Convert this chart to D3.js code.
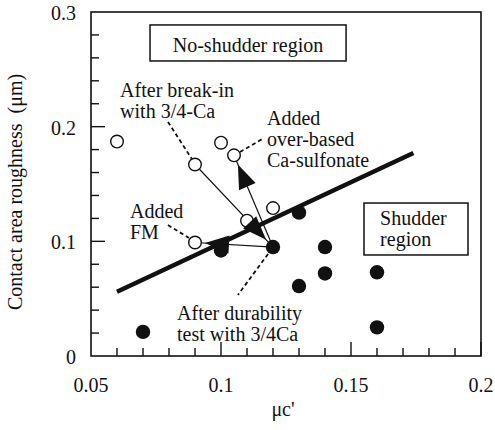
<!DOCTYPE html>
<html>
<head>
<meta charset="utf-8">
<script src="https://cdn.jsdelivr.net/npm/d3@7"></script>
<style>
  body { margin: 0; background: #fff; }
</style>
</head>
<body>
<svg id="chart"></svg>
<script>
// open circles (no shudder) and filled circles (shudder)
const openX = [0.06, 0.10, 0.105, 0.09, 0.11, 0.12, 0.09];
const openY = [0.187, 0.186, 0.175, 0.167, 0.118, 0.129, 0.099];
const filledX = [0.12, 0.10, 0.13, 0.14, 0.14, 0.13, 0.16, 0.16, 0.07];
const filledY = [0.095, 0.092, 0.125, 0.095, 0.072, 0.061, 0.073, 0.025, 0.021];

// boundary line
const boundaryX = [0.06, 0.174];
const boundaryY = [0.056, 0.177];

// arrows: from point -> to point
const arrowFrom = [[0.09, 0.167], [0.12, 0.095], [0.12, 0.095]];
const arrowTo = [[0.12, 0.095], [0.105, 0.175], [0.09, 0.099]];

const xTicks = [0.05, 0.1, 0.15, 0.2];
const xTickLabels = ["0.05", "0.1", "0.15", "0.2"];
const yTicks = [0, 0.1, 0.2, 0.3];
const yTickLabels = ["0", "0.1", "0.2", "0.3"];

// annotations
const notes = [
    {x: 0.0612, y: 0.2259, lines: ["After break-in", "with 3/4-Ca"]},
    {x: 0.1177, y: 0.2015, lines: ["Added", "over-based", "Ca-sulfonate"]},
    {x: 0.065, y: 0.1203, lines: ["Added", "FM"]},
    {x: 0.0831, y: 0.0314, lines: ["After durability", "test with 3/4Ca"]},
    {x: 0.1612, y: 0.1142, lines: ["Shudder", "region"]}
];
const leaders = [
    [0.0796, 0.2041, 0.0888, 0.1718],
    [0.1073, 0.1779, 0.1165, 0.1901],
    [0.0796, 0.1142, 0.0877, 0.1029],
    [0.1181, 0.0890, 0.1065, 0.0532]
];
const boxes = [[0.0727, 0.2887, 0.1481, 0.2573], [0.155, 0.1334, 0.195, 0.0881]];

const FONT = 'Liberation Serif';
const width = 495, height = 430;
const margin = {left: 91, right: 14, top: 12, bottom: 74};

const svg = d3.select('#chart').attr('width', width).attr('height', height);

const x = d3.scaleLinear().domain([0.05, 0.2]).range([margin.left, width - margin.right]);
const y = d3.scaleLinear().domain([0, 0.3]).range([height - margin.bottom, margin.top]);

function label(sel) {
    return sel.attr('font-family', FONT).attr('font-size', 20).attr('fill', '#111');
}

// frame
svg.append('rect')
    .attr('x', x(0.05)).attr('y', y(0.3))
    .attr('width', x(0.2) - x(0.05)).attr('height', y(0) - y(0.3))
    .attr('fill', 'none').attr('stroke', '#111').attr('stroke-width', 1.6);

// inward ticks
const xMinor = d3.range(0.06, 0.2, 0.01);
svg.selectAll('.xt').data(xMinor).enter().append('line')
    .attr('x1', d => x(d)).attr('x2', d => x(d))
    .attr('y1', y(0)).attr('y2', d => y(0) - (Math.abs(d * 20 - Math.round(d * 20)) < 0.01 ? 14 : 8))
    .attr('stroke', '#111').attr('stroke-width', 1.4);
const yMinor = d3.range(0.02, 0.3, 0.02);
svg.selectAll('.yt').data(yMinor).enter().append('line')
    .attr('y1', d => y(d)).attr('y2', d => y(d))
    .attr('x1', x(0.05)).attr('x2', d => x(0.05) + (Math.abs(d * 10 - Math.round(d * 10)) < 0.01 ? 14 : 8))
    .attr('stroke', '#111').attr('stroke-width', 1.4);

// tick labels
svg.selectAll('.xl').data(xTicks).enter().append('text')
    .call(label)
    .attr('x', d => x(d)).attr('y', y(0) + 36)
    .attr('text-anchor', 'middle')
    .text((d, i) => xTickLabels[i]);
svg.selectAll('.yl').data(yTicks).enter().append('text')
    .call(label)
    .attr('x', x(0.05) - 15).attr('y', d => y(d) + 8)
    .attr('text-anchor', 'end')
    .text((d, i) => yTickLabels[i]);

// axis titles
svg.append('text')
    .call(label)
    .attr('x', 283).attr('y', 416)
    .attr('text-anchor', 'middle')
    .text("\u03bcc'");
svg.append('text')
    .call(label)
    .attr('transform', 'translate(22,' + (y(0.15) + 8) + ') rotate(-90)')
    .attr('text-anchor', 'middle')
    .style('white-space', 'pre')
    .text("Contact area roughness  (\u03bcm)");

// region boxes
svg.selectAll('.box').data(boxes).enter().append('rect')
    .attr('x', d => x(d[0])).attr('y', d => y(d[1]))
    .attr('width', d => x(d[2]) - x(d[0])).attr('height', d => y(d[3]) - y(d[1]))
    .attr('fill', '#fff').attr('stroke', '#111').attr('stroke-width', 1.5);
svg.append('text')
    .call(label)
    .attr('x', x(0.1104)).attr('y', y(0.265))
    .attr('text-anchor', 'middle')
    .text('No-shudder region');

// leader lines
svg.selectAll('.leader').data(leaders).enter().append('line')
    .attr('x1', d => x(d[0])).attr('y1', d => y(d[1]))
    .attr('x2', d => x(d[2])).attr('y2', d => y(d[3]))
    .attr('stroke', '#111').attr('stroke-width', 1.8).attr('stroke-dasharray', '4,3');

// arrow shafts
svg.selectAll('.shaft').data(arrowFrom).enter().append('line')
    .attr('x1', d => x(d[0])).attr('y1', d => y(d[1]))
    .attr('x2', (d, i) => x(arrowTo[i][0])).attr('y2', (d, i) => y(arrowTo[i][1]))
    .attr('stroke', '#111').attr('stroke-width', 1.2);

// open circles
svg.selectAll('.open').data(openX).enter().append('circle')
    .attr('cx', d => x(d)).attr('cy', (d, i) => y(openY[i]))
    .attr('r', 6.3)
    .attr('fill', '#fff').attr('stroke', '#111').attr('stroke-width', 1.4);

// boundary
svg.append('line')
    .attr('x1', x(boundaryX[0])).attr('y1', y(boundaryY[0]))
    .attr('x2', x(boundaryX[1])).attr('y2', y(boundaryY[1]))
    .attr('stroke', '#111').attr('stroke-width', 4.5);

// filled circles
svg.selectAll('.filled').data(filledX).enter().append('circle')
    .attr('cx', d => x(d)).attr('cy', (d, i) => y(filledY[i]))
    .attr('r', 7.2)
    .attr('fill', '#111');

// arrow heads, stopping short of the target point
svg.selectAll('.head').data(arrowFrom).enter().append('path')
    .attr('d', (d, i) => {
        const x0 = x(d[0]), y0 = y(d[1]);
        const x1 = x(arrowTo[i][0]), y1 = y(arrowTo[i][1]);
        const len = Math.hypot(x1 - x0, y1 - y0);
        const ux = (x1 - x0) / len, uy = (y1 - y0) / len;
        const tx = x1 - ux * 10, ty = y1 - uy * 10;
        const bx = tx - ux * 24, by = ty - uy * 24;
        return 'M' + tx + ',' + ty +
            'L' + (bx - uy * 9) + ',' + (by + ux * 9) +
            'L' + (bx + uy * 9) + ',' + (by - ux * 9) + 'Z';
    })
    .attr('fill', '#111');

// annotation text
notes.forEach(n => {
    const t = svg.append('text').call(label).attr('x', x(n.x)).attr('y', y(n.y));
    n.lines.forEach((line, i) => {
        t.append('tspan').attr('x', x(n.x)).attr('dy', i === 0 ? 0 : 21).text(line);
    });
});
</script>
</body>
</html>
